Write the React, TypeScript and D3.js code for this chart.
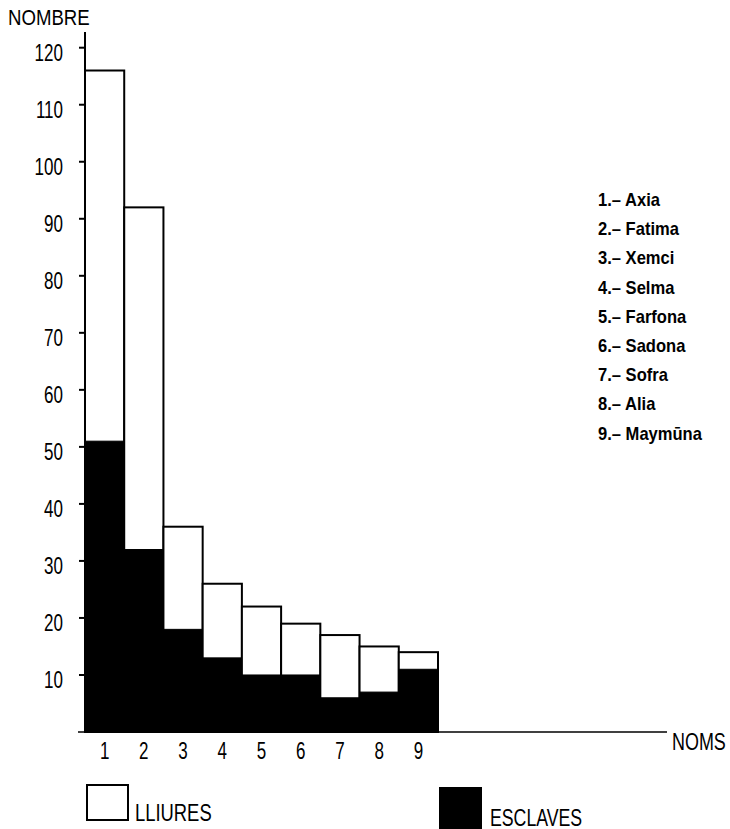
import React from "react";
import * as d3 from "d3";

const categories = ["1", "2", "3", "4", "5", "6", "7", "8", "9"];
const names = ["Axia", "Fatima", "Xemci", "Selma", "Farfona", "Sadona", "Sofra", "Alia", "Maymūna"];
const totals = [116, 92, 36, 26, 22, 19, 17, 15, 14];
const esclaves = [51, 32, 18, 13, 10, 10, 6, 7, 11];
const yTicks = [10, 20, 30, 40, 50, 60, 70, 80, 90, 100, 110, 120];

const FONT = "'Liberation Sans', Arial, sans-serif";

function NText(props: { x: number; y: number; size?: number; sx?: number; anchor?: string; bold?: boolean; children: React.ReactNode }) {
  const { x, y, size = 23, sx = 0.78, anchor = "start", bold = false, children } = props;
  return (
    <text
      transform={`translate(${x},${y}) scale(${sx},1)`}
      fontSize={size}
      textAnchor={anchor}
      fontWeight={bold ? "bold" : "normal"}
    >
      {children}
    </text>
  );
}

export default function App() {
  const W = 730, H = 829;
  const x = d3.scaleBand<string>().domain(categories).range([85, 438]).padding(0);
  const y = d3.scaleLinear().domain([0, 120]).range([732, 47.7]);
  const bw = x.bandwidth();
  return (
    <svg width={W} height={H} style={{ position: "absolute", left: 0, top: 0, background: "#fff" }} fontFamily={FONT}>
      <rect x={0} y={0} width={W} height={H} fill="#fff" />
      <NText x={8} y={25} sx={0.81}>NOMBRE</NText>
      {/* bars */}
      {categories.map((c, i) => (
        <g key={c}>
          <rect x={x(c)!} y={y(totals[i])} width={bw} height={y(0) - y(totals[i])} fill="#fff" stroke="#000" strokeWidth={2} />
          <rect x={x(c)!} y={y(esclaves[i])} width={bw} height={y(0) - y(esclaves[i])} fill="#000" stroke="#000" strokeWidth={1} />
        </g>
      ))}
      {/* y axis */}
      <line x1={85} x2={85} y1={32} y2={y(0)} stroke="#000" strokeWidth={2} />
      {yTicks.map((t) => (
        <g key={t}>
          <line x1={79} x2={85} y1={y(t)} y2={y(t)} stroke="#000" strokeWidth={2} />
          <NText x={63} y={y(t) + 13.5} sx={0.74} anchor="end">{t}</NText>
        </g>
      ))}
      {/* x axis */}
      <line x1={78} x2={667} y1={y(0)} y2={y(0)} stroke="#000" strokeWidth={1.5} />
      <NText x={672} y={750}>NOMS</NText>
      {categories.map((c) => (
        <NText key={c} x={x(c)! + bw / 2} y={759} sx={0.74} anchor="middle">{c}</NText>
      ))}
      {/* names list */}
      {names.map((n, i) => (
        <NText key={n} x={598} y={206 + i * 29.2} size={18} sx={0.92} bold>{`${i + 1}.– ${n}`}</NText>
      ))}
      {/* legend */}
      <rect x={87} y={785} width={41} height={35} fill="#fff" stroke="#000" strokeWidth={2} />
      <NText x={135} y={821} sx={0.8}>LLIURES</NText>
      <rect x={439} y={787} width={43} height={44} fill="#000" />
      <NText x={490} y={826} sx={0.77}>ESCLAVES</NText>
    </svg>
  );
}
